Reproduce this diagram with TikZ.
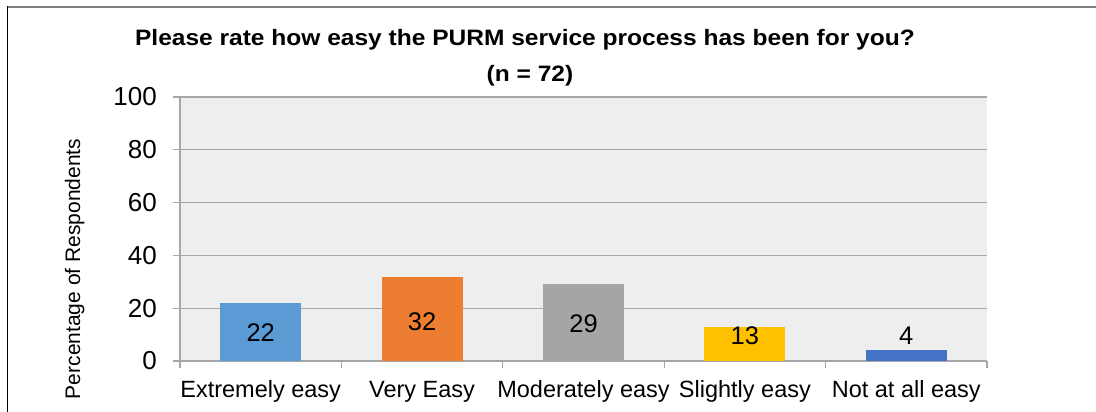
\documentclass[tikz,border=0pt]{standalone}
\usepackage{fontspec}
\setmainfont{Liberation Sans}
\definecolor{plotbg}{HTML}{EEEEEE}
\definecolor{gridc}{HTML}{A6A6A6}
\definecolor{frametop}{HTML}{808080}
\definecolor{cblue}{HTML}{5B9BD5}
\definecolor{corange}{HTML}{ED7D31}
\definecolor{cgray}{HTML}{A5A5A5}
\definecolor{cgold}{HTML}{FFC000}
\definecolor{cdblue}{HTML}{4472C4}
\begin{document}
\begin{tikzpicture}[x=1pt,y=-1pt,
  gridline/.style={draw=gridc,line width=1.3pt},
  barbox/.style={draw=none},
  ticklab/.style={anchor=east,inner sep=0pt,font=\fontsize{26}{30}\selectfont},
  catlab/.style={anchor=base,inner sep=0pt,font=\fontsize{23.5}{28}\selectfont},
  vallab/.style={anchor=base,inner sep=0pt,font=\fontsize{25.5}{30}\selectfont},
  titlelab/.style={anchor=base,inner sep=0pt,xscale=1.1,font=\bfseries\fontsize{22.3}{26}\selectfont}]
\useasboundingbox (0,0) rectangle (1096,412);
\fill[white] (0,0) rectangle (1096,412);
% frame
\draw[frametop,line width=2pt] (7,7.5) -- (1096,7.5);
\draw[black,line width=1.2pt] (7.3,6.5) -- (7.3,412);
% plot area
\fill[plotbg] (180,97) rectangle (987,361);
\foreach \v in {20,40,60,80,100}{
  \draw[gridline] (173,{361-2.64*\v}) -- (987,{361-2.64*\v});
}
\draw[gridline] (173,361) -- (987,361);
\draw[gridline] (180,97) -- (180,368);
\foreach \i in {1,...,5}{
  \draw[gridline] ({180+161.4*\i},361) -- ({180+161.4*\i},368);
}
% tick labels
\foreach \v in {0,20,40,60,80,100}{
  \node[ticklab] (t\v) at (157,{361-2.64*\v}) {\v};
}
% bars
\fill[cblue]   (220.2,{361-2.64*22}) rectangle (301.2,361);
\fill[corange] (381.6,{361-2.64*32}) rectangle (462.6,361);
\fill[cgray]   (543.0,{361-2.64*29}) rectangle (624.0,361);
\fill[cgold]   (704.4,{361-2.64*13}) rectangle (785.4,361);
\fill[cdblue]  (865.8,{361-2.64*4})  rectangle (946.8,361);
% value labels
\node[vallab] (v1) at (260.7,341.7) {22};
\node[vallab] (v2) at (422.1,330) {32};
\node[vallab] (v3) at (583.5,332.3) {29};
\node[vallab] (v4) at (744.9,344) {13};
\node[vallab] (v5) at (906.3,344) {4};
% category labels
\node[catlab] (c1) at (260.7,397.7) {Extremely easy};
\node[catlab] (c2) at (422.1,397.7) {Very Easy};
\node[catlab] (c3) at (583.5,397.7) {Moderately easy};
\node[catlab] (c4) at (744.9,397.7) {Slightly easy};
\node[catlab] (c5) at (906.3,397.7) {Not at all easy};
% axis title
\node[rotate=90,anchor=base,inner sep=0pt,font=\fontsize{21}{25}\selectfont] (ytitle) at (80,269) {Percentage of Respondents};
% chart title
\node[titlelab] (title1) at (525,46) {Please rate how easy the PURM service process has been for you?};
\node[titlelab] (title2) at (530,81.7) {(n = 72)};
\end{tikzpicture}
\end{document}
